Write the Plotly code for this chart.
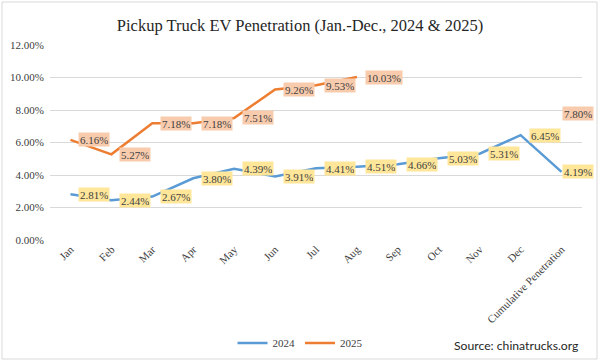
import plotly.graph_objects as go

categories = ["Jan", "Feb", "Mar", "Apr", "May", "Jun", "Jul", "Aug", "Sep", "Oct",
              "Nov", "Dec", "Cumulative Penetration"]
values_2024 = [2.81, 2.44, 2.67, 3.80, 4.39, 3.91, 4.41, 4.51, 4.66, 5.03, 5.31, 6.45, 4.19]
values_2025 = [6.16, 5.27, 7.18, 7.18, 7.51, 9.26, 9.53, 10.03, None, None, None, None, 7.80]
y_ticks = [0, 2, 4, 6, 8, 10, 12]
title_text = "Pickup Truck EV Penetration (Jan.-Dec., 2024 & 2025)"
source_text = "Source: chinatrucks.org"

SERIF = "Liberation Serif, Times New Roman, serif"
TXT = "#404040"

# pixel geometry -> paper coords
L, R, T, B = 50, 18, 45, 122
W, H = 600, 362
PW, PH = W - L - R, H - T - B


def px_x(px):
    return (px - L) / PW


def px_y(py):
    return (H - B - py) / PH


fig = go.Figure()
series = [("2024", values_2024, "#5B9BD5", "#FFE699"),
          ("2025", values_2025, "#ED7D31", "#F8CBAD")]
for name, vals, color, fill in series:
    fig.add_trace(go.Scatter(
        x=categories, y=vals, name=name, mode="lines",
        line=dict(color=color, width=2.5), connectgaps=False,
        hoverinfo="skip"))

annotations = []
for name, vals, color, fill in series:
    for i, (c, v) in enumerate(zip(categories, vals)):
        if v is None:
            continue
        last = i == len(categories) - 1
        annotations.append(dict(
            x=c, y=v, xref="x", yref="y", text=f"{v:.2f}%",
            showarrow=False, xanchor="left", yanchor="middle",
            xshift=0 if last else 8,
            bgcolor=fill, borderpad=1, height=11,
            font=dict(family=SERIF, size=11, color=TXT)))

annotations.append(dict(
    x=px_x(581), y=px_y(345), xref="paper", yref="paper", text=source_text,
    showarrow=False, xanchor="right", yanchor="middle",
    font=dict(family="Lato, Open Sans, sans-serif", size=12.2, color="#262626")))

fig.update_layout(
    width=W, height=H,
    margin=dict(l=L, r=R, t=T, b=B, autoexpand=False),
    paper_bgcolor="white", plot_bgcolor="white",
    title=dict(text=title_text, x=0.5, xref="container", xanchor="center",
               y=1 - 25 / H, yref="container", yanchor="middle",
               font=dict(family=SERIF, size=16.5, color="#262626")),
    xaxis=dict(type="category", range=[-0.5, len(categories) - 0.5],
               showgrid=False, showline=False, zeroline=False, ticks="",
               tickangle=-45, tickfont=dict(family=SERIF, size=11, color=TXT),
               fixedrange=True),
    yaxis=dict(range=[0, 12], tickvals=y_ticks,
               ticktext=[f"{t:.2f}%" for t in y_ticks],
               showgrid=True, gridcolor="#D9D9D9", gridwidth=1,
               zeroline=False, showline=False, ticks="",
               ticklabelstandoff=5,
               tickfont=dict(family=SERIF, size=11, color=TXT),
               fixedrange=True),
    legend=dict(orientation="h", x=px_x(300), xanchor="center",
                y=px_y(343), yanchor="middle",
                font=dict(family=SERIF, size=11, color=TXT),
                bgcolor="rgba(0,0,0,0)", itemwidth=30),
    annotations=annotations,
    shapes=[dict(type="rect", xref="paper", yref="paper",
                 x0=px_x(2), x1=px_x(597), y0=px_y(359), y1=px_y(2),
                 line=dict(color="#D9D9D9", width=1), layer="below")],
    showlegend=True,
)

fig.write_html("out.html",
               config={"displayModeBar": False},
               post_script="document.body.style.margin='0';"
                           "document.body.style.overflow='hidden';")
